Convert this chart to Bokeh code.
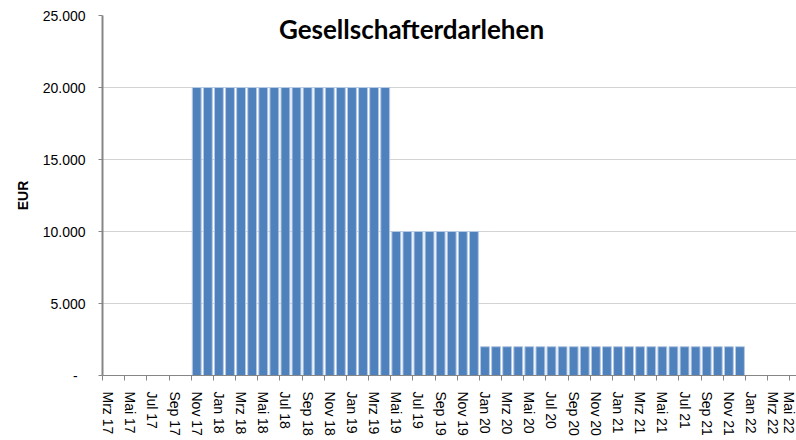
from bokeh.plotting import figure
from bokeh.models import Range1d, FixedTicker, Label, ColumnDataSource
from bokeh.embed import file_html
from bokeh.resources import INLINE

# ---- data ----
month_names = ["Jan", "Feb", "Mrz", "Apr", "Mai", "Jun", "Jul", "Aug", "Sep", "Okt", "Nov", "Dez"]
start_year = 17
start_month = 3  # Mrz 17
n_months = 63    # Mrz 17 .. Mai 22
months = []
for i in range(n_months):
    m = (start_month - 1 + i) % 12
    y = start_year + (start_month - 1 + i) // 12
    months.append(f"{month_names[m]} {y}")

values = ([0] * 8 + [20000] * 18 + [10000] * 8 + [2000] * 24 + [0] * 5)

y_ticks = [0, 5000, 10000, 15000, 20000, 25000]
y_tick_labels = ["-\u00a0\u00a0", "5.000", "10.000", "15.000", "20.000", "25.000"]

title_text = "Gesellschafterdarlehen"
y_title = "EUR"

# ---- figure ----
W, H = 796, 440
p = figure(width=W, height=H, output_backend="svg", toolbar_location=None,
           x_range=Range1d(-0.5, 62.1), y_range=Range1d(0, 25000),
           min_border_left=102, min_border_right=0, min_border_top=15, min_border_bottom=65)
p.outline_line_color = None
p.background_fill_color = "white"
p.border_fill_color = "white"

idx = list(range(len(months)))
src = ColumnDataSource(dict(x=idx, top=values))
p.vbar(x="x", top="top", width=0.8, bottom=0, source=src,
       fill_color="#4F81BD", line_color="#B4C9E4", line_width=1)

# x axis
label_idx = idx[::2]
p.xaxis.ticker = FixedTicker(ticks=label_idx, minor_ticks=[i - 0.5 for i in label_idx])
p.xaxis.major_label_overrides = {i: months[i] for i in label_idx}
p.xaxis.major_label_orientation = "vertical"
p.xaxis.major_tick_out = 0
p.xaxis.major_tick_in = 0
p.xaxis.minor_tick_out = 5
p.xaxis.minor_tick_in = 0
p.xaxis.minor_tick_line_color = "#868686"
p.xaxis.axis_line_color = "#868686"
p.xaxis.axis_line_width = 1
p.xaxis.major_label_standoff = 11
p.xaxis.major_label_text_font = "Liberation Sans"
p.xaxis.major_label_text_font_size = "14px"
p.xaxis.major_label_text_color = "black"
p.xgrid.grid_line_color = None

# y axis
p.yaxis.ticker = FixedTicker(ticks=y_ticks, minor_ticks=[])
p.yaxis.major_label_overrides = {t: l for t, l in zip(y_ticks, y_tick_labels)}
p.yaxis.major_tick_out = 4
p.yaxis.major_tick_in = 0
p.yaxis.major_tick_line_color = "#868686"
p.yaxis.axis_line_color = "#868686"
p.yaxis.axis_line_width = 2
p.yaxis.major_label_standoff = 13
p.yaxis.major_label_text_font = "Liberation Sans"
p.yaxis.major_label_text_font_size = "14px"
p.yaxis.major_label_text_color = "black"
p.yaxis.axis_label = y_title
p.yaxis.axis_label_text_font = "Liberation Sans"
p.yaxis.axis_label_text_font_style = "bold"
p.yaxis.axis_label_text_font_size = "14px"
p.yaxis.axis_label_text_color = "black"
p.yaxis.axis_label_standoff = 9
p.ygrid.grid_line_color = "#A6A6A6"
p.ygrid.grid_line_dash = "1 1"
p.ygrid.grid_line_width = 1

title = Label(x=309, y=347, x_units="screen", y_units="screen", text=title_text,
              text_font="Lato", text_font_style="bold", text_font_size="26px",
              text_align="center", text_baseline="middle", text_color="black")
p.add_layout(title)

open("out.html", "w").write(file_html(p, INLINE))
